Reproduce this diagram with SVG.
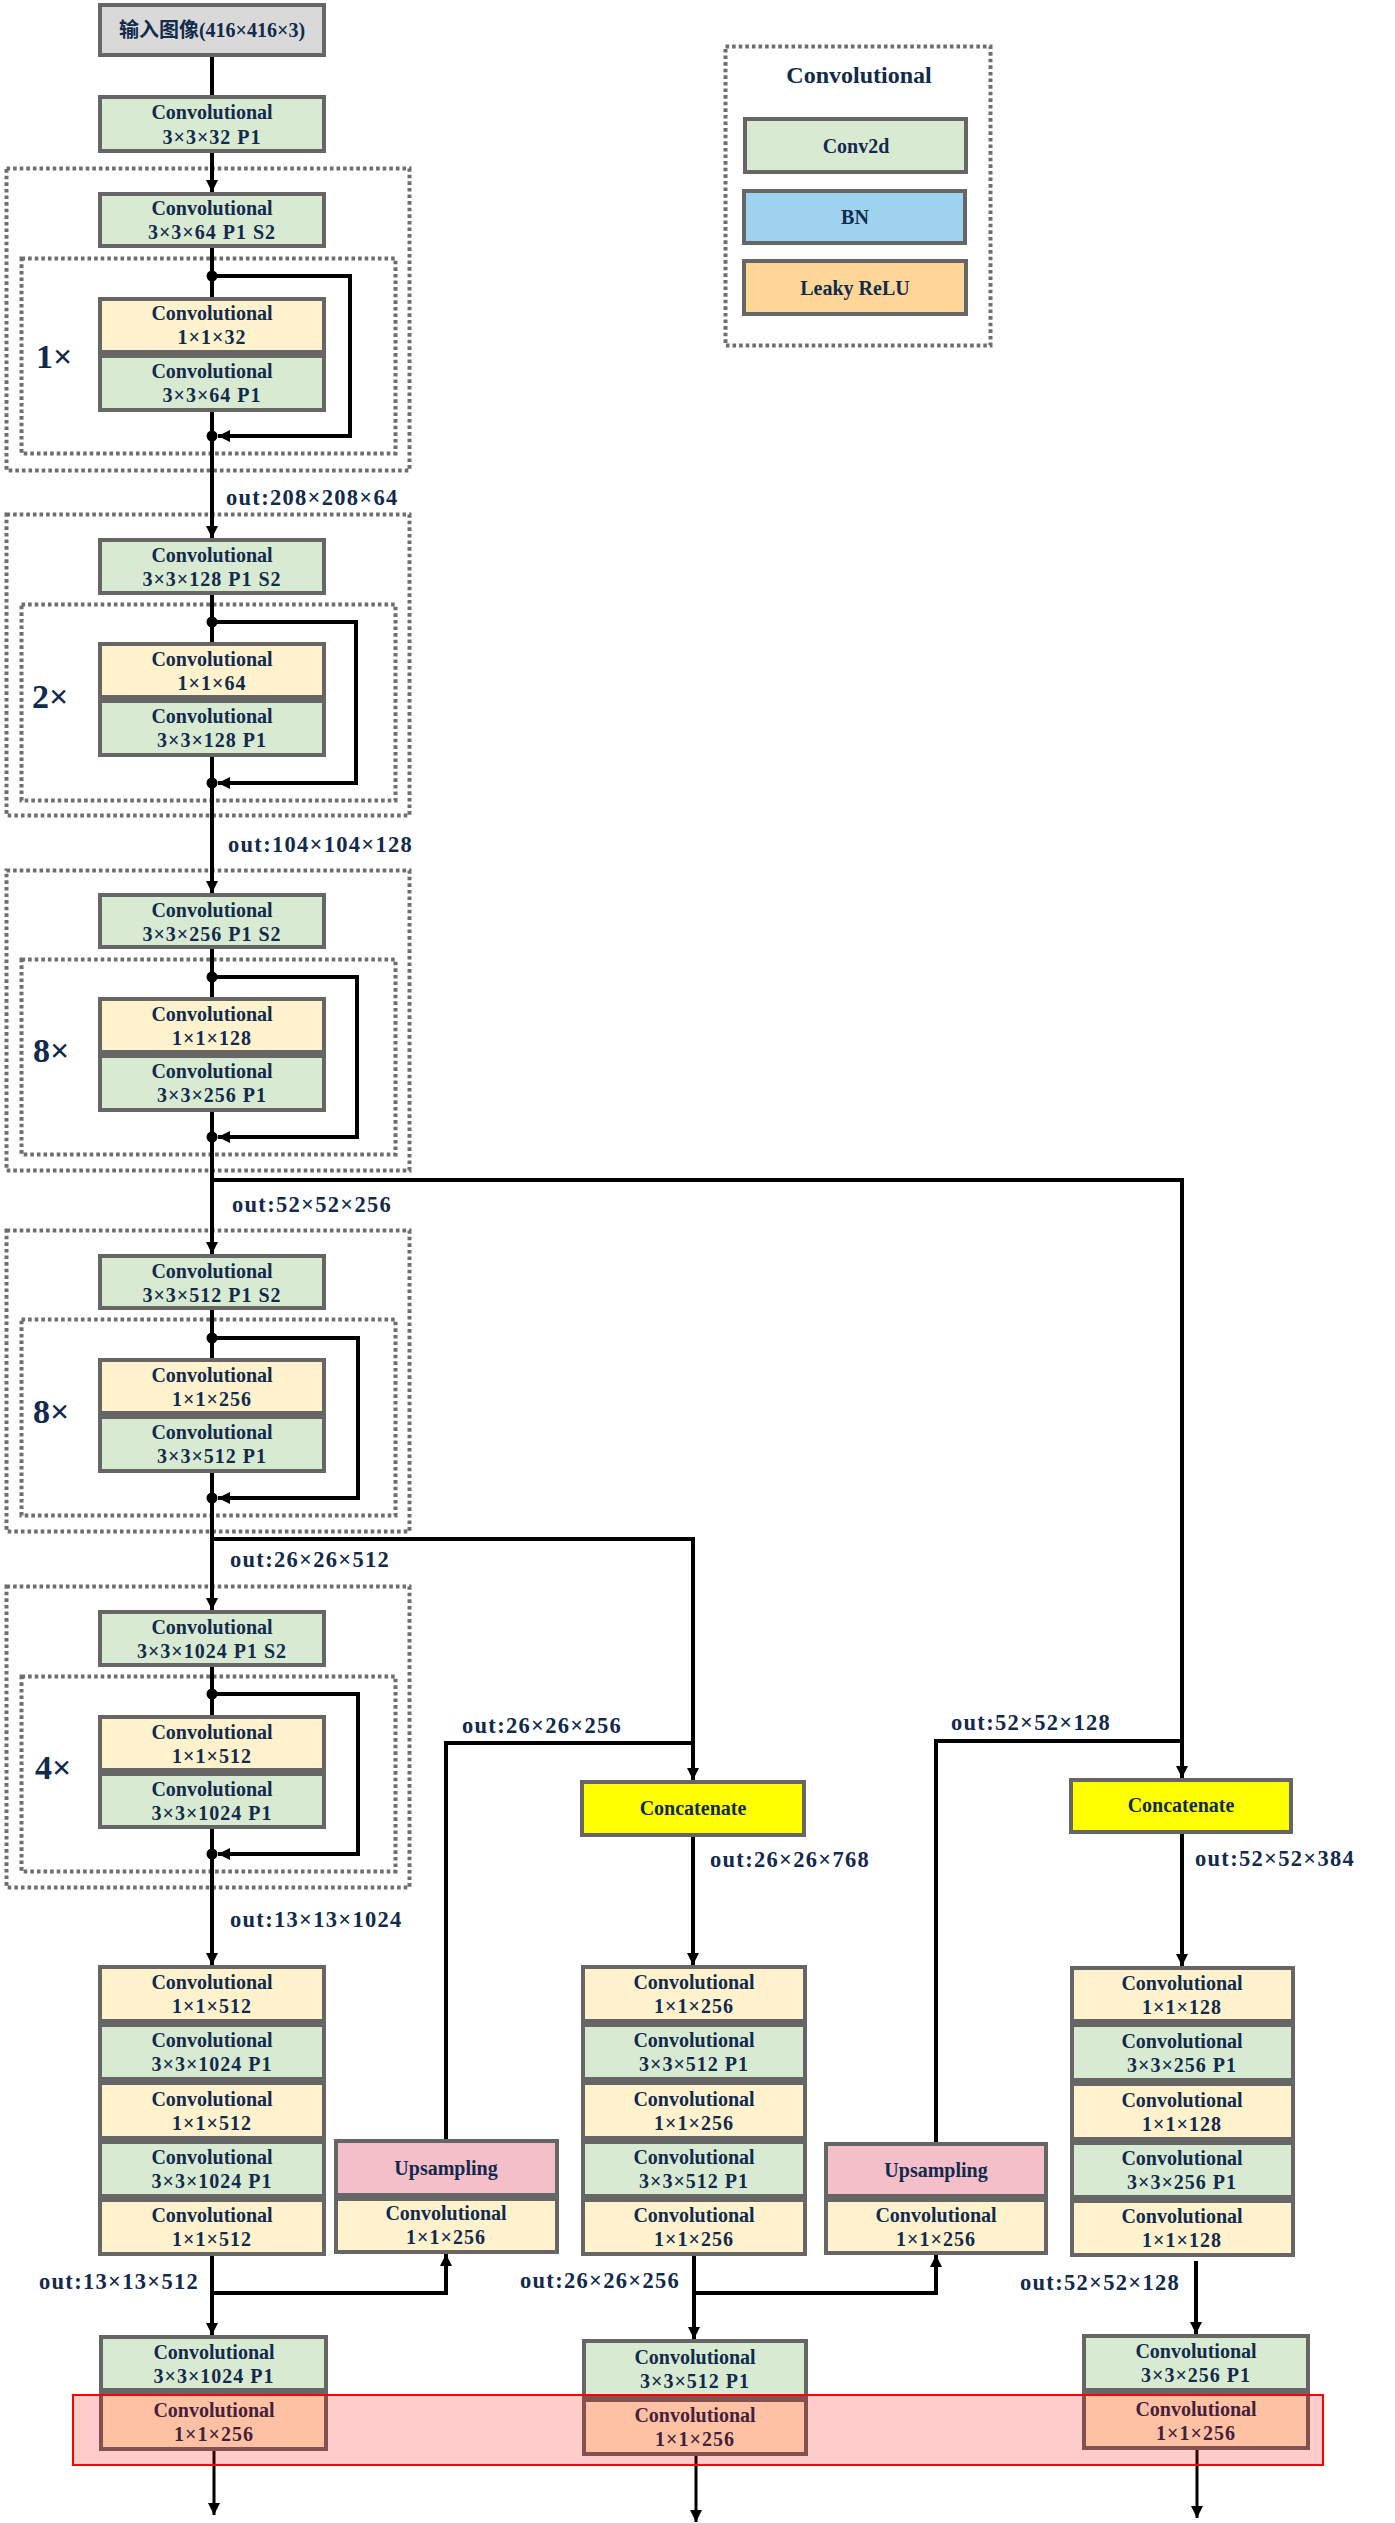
<svg xmlns="http://www.w3.org/2000/svg" width="1395" height="2523" viewBox="0 0 1395 2523">
<defs>
<style>
.t{font-family:"Liberation Serif","Times New Roman","Noto Sans CJK SC",serif;font-weight:bold;fill:#122a4c;font-size:20px;text-anchor:middle}
.cjk{font-family:"Noto Sans CJK SC",sans-serif;font-weight:bold;font-size:20px}
.t2{letter-spacing:1px}
.lbl{font-size:22.5px;letter-spacing:1.3px;text-anchor:start}
.rep{font-size:34px;text-anchor:start}
.ttl{font-size:24px}
.b{stroke:#666;stroke-width:4}
.gr{fill:#D9EAD3}
.ye{fill:#FFF2CC}
.in{fill:#D9D9D9}
.pk{fill:#F5BFCA}
.cc{fill:#FFFF00}
.bn{fill:#9DD3EE}
.lr{fill:#FED798}
.dt{fill:none;stroke:#6e6e6e;stroke-width:4;stroke-dasharray:3.6 3}
.ln{fill:none;stroke:#000;stroke-width:4}
.ln3{fill:none;stroke:#000;stroke-width:3}
.a{marker-end:url(#arr)}
</style>
<marker id="arr" markerUnits="userSpaceOnUse" markerWidth="12" markerHeight="12" refX="12" refY="6" orient="auto">
<path d="M0,0 L12,6 L0,12 z" fill="#000"/>
</marker>
</defs>
<rect width="1395" height="2523" fill="#fff"/>

<!-- dotted frames -->
<g id="frames">
<rect class="dt" x="6.5" y="168.5" width="403" height="302"/>
<rect class="dt" x="21.5" y="258.5" width="374" height="195"/>
<rect class="dt" x="6.5" y="514.5" width="403" height="301"/>
<rect class="dt" x="21.5" y="604.5" width="374" height="196"/>
<rect class="dt" x="6.5" y="870.5" width="403" height="300"/>
<rect class="dt" x="21.5" y="959.5" width="374" height="195"/>
<rect class="dt" x="6.5" y="1230.5" width="403" height="301"/>
<rect class="dt" x="21.5" y="1319.5" width="374" height="196"/>
<rect class="dt" x="6.5" y="1586.5" width="403" height="301"/>
<rect class="dt" x="21.5" y="1676.5" width="374" height="195"/>
<rect class="dt" x="725.5" y="46.5" width="265" height="299"/>
</g>

<!-- connectors -->
<g id="connectors">
<path class="ln" d="M212,57 V95"/>
<path class="ln a" d="M212,153 V192"/>
<path class="ln" d="M212,248 V297"/>
<path class="ln a" d="M212,412 V538"/>
<path class="ln a" d="M212,276 H350 V436 H218"/>
<path class="ln" d="M212,595 V642"/>
<path class="ln a" d="M212,757 V893"/>
<path class="ln a" d="M212,622 H356 V783 H218"/>
<path class="ln" d="M212,949 V997"/>
<path class="ln a" d="M212,1112 V1254"/>
<path class="ln a" d="M212,977 H357 V1137 H218"/>
<path class="ln a" d="M212,1180 H1182 V1778"/>
<path class="ln" d="M212,1310 V1358"/>
<path class="ln a" d="M212,1473 V1610"/>
<path class="ln a" d="M212,1338 H358 V1498 H218"/>
<path class="ln a" d="M212,1539 H693 V1780"/>
<path class="ln" d="M212,1667 V1715"/>
<path class="ln a" d="M212,1829 V1965"/>
<path class="ln a" d="M212,1694 H358 V1854 H218"/>
<path class="ln a" d="M212,2256 V2335"/>
<path class="ln a" d="M212,2293 H446 V2254"/>
<path class="ln" d="M446,2139 V1743 H693"/>
<path class="ln a" d="M693,1837 V1965"/>
<path class="ln a" d="M694,2256 V2339"/>
<path class="ln a" d="M694,2293 H936 V2255"/>
<path class="ln" d="M936,2142 V1741 H1182"/>
<path class="ln a" d="M1182,1834 V1966"/>
<path class="ln a" d="M1196,2261 V2334"/>
<path class="ln3 a" d="M214,2451 V2515"/>
<path class="ln3 a" d="M696,2456 V2522"/>
<path class="ln3 a" d="M1197,2450 V2518"/>
<g fill="#000">
<circle cx="212" cy="276" r="5.5"/><circle cx="212" cy="436" r="5.5"/>
<circle cx="212" cy="622" r="5.5"/><circle cx="212" cy="783" r="5.5"/>
<circle cx="212" cy="977" r="5.5"/><circle cx="212" cy="1137" r="5.5"/>
<circle cx="212" cy="1338" r="5.5"/><circle cx="212" cy="1498" r="5.5"/>
<circle cx="212" cy="1694" r="5.5"/><circle cx="212" cy="1854" r="5.5"/>
</g>
</g>

<!-- labels -->
<g id="labels" class="t">
<text class="t lbl" x="226" y="505">out:208×208×64</text>
<text class="t lbl" x="228" y="852">out:104×104×128</text>
<text class="t lbl" x="232" y="1212">out:52×52×256</text>
<text class="t lbl" x="230" y="1567">out:26×26×512</text>
<text class="t lbl" x="230" y="1927">out:13×13×1024</text>
<text class="t lbl" x="462" y="1733">out:26×26×256</text>
<text class="t lbl" x="951" y="1730">out:52×52×128</text>
<text class="t lbl" x="710" y="1867">out:26×26×768</text>
<text class="t lbl" x="1195" y="1866">out:52×52×384</text>
<text class="t lbl" x="39" y="2289">out:13×13×512</text>
<text class="t lbl" x="520" y="2288">out:26×26×256</text>
<text class="t lbl" x="1020" y="2290">out:52×52×128</text>
<text class="t rep" x="36" y="368">1×</text>
<text class="t rep" x="32" y="708">2×</text>
<text class="t rep" x="33" y="1062">8×</text>
<text class="t rep" x="33" y="1423">8×</text>
<text class="t rep" x="35" y="1779">4×</text>
</g>

<!-- nodes -->
<g id="input"><rect class="b in" x="100" y="5" width="224" height="50"/><text class="t" x="212" y="37"><tspan class="cjk">输入图像</tspan>(416×416×3)</text></g>
<g id="conv0"><rect class="b gr" x="100" y="97" width="224" height="54"/><text class="t" x="212" y="119">Convolutional</text><text class="t t2" x="212" y="144">3×3×32 P1</text></g>

<g id="b1-s2"><rect class="b gr" x="100" y="194" width="224" height="52"/><text class="t" x="212" y="215">Convolutional</text><text class="t t2" x="212" y="239">3×3×64 P1 S2</text></g>
<g id="b1-c1"><rect class="b ye" x="100" y="299" width="224" height="53"/><text class="t" x="212" y="320">Convolutional</text><text class="t t2" x="212" y="344">1×1×32</text></g>
<g id="b1-c3"><rect class="b gr" x="100" y="356" width="224" height="54"/><text class="t" x="212" y="378">Convolutional</text><text class="t t2" x="212" y="402">3×3×64 P1</text></g>

<g id="b2-s2"><rect class="b gr" x="100" y="540" width="224" height="53"/><text class="t" x="212" y="562">Convolutional</text><text class="t t2" x="212" y="586">3×3×128 P1 S2</text></g>
<g id="b2-c1"><rect class="b ye" x="100" y="644" width="224" height="53"/><text class="t" x="212" y="666">Convolutional</text><text class="t t2" x="212" y="690">1×1×64</text></g>
<g id="b2-c3"><rect class="b gr" x="100" y="701" width="224" height="54"/><text class="t" x="212" y="723">Convolutional</text><text class="t t2" x="212" y="747">3×3×128 P1</text></g>

<g id="b3-s2"><rect class="b gr" x="100" y="895" width="224" height="52"/><text class="t" x="212" y="917">Convolutional</text><text class="t t2" x="212" y="941">3×3×256 P1 S2</text></g>
<g id="b3-c1"><rect class="b ye" x="100" y="999" width="224" height="53"/><text class="t" x="212" y="1021">Convolutional</text><text class="t t2" x="212" y="1045">1×1×128</text></g>
<g id="b3-c3"><rect class="b gr" x="100" y="1056" width="224" height="54"/><text class="t" x="212" y="1078">Convolutional</text><text class="t t2" x="212" y="1102">3×3×256 P1</text></g>

<g id="b4-s2"><rect class="b gr" x="100" y="1256" width="224" height="52"/><text class="t" x="212" y="1278">Convolutional</text><text class="t t2" x="212" y="1302">3×3×512 P1 S2</text></g>
<g id="b4-c1"><rect class="b ye" x="100" y="1360" width="224" height="53"/><text class="t" x="212" y="1382">Convolutional</text><text class="t t2" x="212" y="1406">1×1×256</text></g>
<g id="b4-c3"><rect class="b gr" x="100" y="1417" width="224" height="54"/><text class="t" x="212" y="1439">Convolutional</text><text class="t t2" x="212" y="1463">3×3×512 P1</text></g>

<g id="b5-s2"><rect class="b gr" x="100" y="1612" width="224" height="53"/><text class="t" x="212" y="1634">Convolutional</text><text class="t t2" x="212" y="1658">3×3×1024 P1 S2</text></g>
<g id="b5-c1"><rect class="b ye" x="100" y="1717" width="224" height="53"/><text class="t" x="212" y="1739">Convolutional</text><text class="t t2" x="212" y="1763">1×1×512</text></g>
<g id="b5-c3"><rect class="b gr" x="100" y="1774" width="224" height="53"/><text class="t" x="212" y="1796">Convolutional</text><text class="t t2" x="212" y="1820">3×3×1024 P1</text></g>

<!-- left stack -->
<g id="l1"><rect class="b ye" x="100" y="1967" width="224" height="54"/><text class="t" x="212" y="1989">Convolutional</text><text class="t t2" x="212" y="2013">1×1×512</text></g>
<g id="l2"><rect class="b gr" x="100" y="2025" width="224" height="54"/><text class="t" x="212" y="2047">Convolutional</text><text class="t t2" x="212" y="2071">3×3×1024 P1</text></g>
<g id="l3"><rect class="b ye" x="100" y="2083" width="224" height="55"/><text class="t" x="212" y="2106">Convolutional</text><text class="t t2" x="212" y="2130">1×1×512</text></g>
<g id="l4"><rect class="b gr" x="100" y="2142" width="224" height="54"/><text class="t" x="212" y="2164">Convolutional</text><text class="t t2" x="212" y="2188">3×3×1024 P1</text></g>
<g id="l5"><rect class="b ye" x="100" y="2200" width="224" height="54"/><text class="t" x="212" y="2222">Convolutional</text><text class="t t2" x="212" y="2246">1×1×512</text></g>
<g id="l-up"><rect class="b pk" x="336" y="2141" width="221" height="54"/><text class="t" x="446" y="2175">Upsampling</text></g>
<g id="l-upc"><rect class="b ye" x="336" y="2199" width="221" height="53"/><text class="t" x="446" y="2220">Convolutional</text><text class="t t2" x="446" y="2244">1×1×256</text></g>
<g id="l-o1"><rect class="b gr" x="101" y="2337" width="225" height="53"/><text class="t" x="214" y="2359">Convolutional</text><text class="t t2" x="214" y="2383">3×3×1024 P1</text></g>
<g id="l-o2"><rect class="b ye" x="101" y="2394" width="225" height="55"/><text class="t" x="214" y="2417">Convolutional</text><text class="t t2" x="214" y="2441">1×1×256</text></g>

<!-- middle -->
<g id="m-cat"><rect class="b cc" x="582" y="1782" width="222" height="53"/><text class="t" x="693" y="1815">Concatenate</text></g>
<g id="m1"><rect class="b ye" x="583" y="1967" width="222" height="54"/><text class="t" x="694" y="1989">Convolutional</text><text class="t t2" x="694" y="2013">1×1×256</text></g>
<g id="m2"><rect class="b gr" x="583" y="2025" width="222" height="54"/><text class="t" x="694" y="2047">Convolutional</text><text class="t t2" x="694" y="2071">3×3×512 P1</text></g>
<g id="m3"><rect class="b ye" x="583" y="2083" width="222" height="55"/><text class="t" x="694" y="2106">Convolutional</text><text class="t t2" x="694" y="2130">1×1×256</text></g>
<g id="m4"><rect class="b gr" x="583" y="2142" width="222" height="54"/><text class="t" x="694" y="2164">Convolutional</text><text class="t t2" x="694" y="2188">3×3×512 P1</text></g>
<g id="m5"><rect class="b ye" x="583" y="2200" width="222" height="54"/><text class="t" x="694" y="2222">Convolutional</text><text class="t t2" x="694" y="2246">1×1×256</text></g>
<g id="m-up"><rect class="b pk" x="826" y="2144" width="220" height="52"/><text class="t" x="936" y="2177">Upsampling</text></g>
<g id="m-upc"><rect class="b ye" x="826" y="2200" width="220" height="53"/><text class="t" x="936" y="2222">Convolutional</text><text class="t t2" x="936" y="2246">1×1×256</text></g>
<g id="m-o1"><rect class="b gr" x="584" y="2341" width="222" height="55"/><text class="t" x="695" y="2364">Convolutional</text><text class="t t2" x="695" y="2388">3×3×512 P1</text></g>
<g id="m-o2"><rect class="b ye" x="584" y="2400" width="222" height="54"/><text class="t" x="695" y="2422">Convolutional</text><text class="t t2" x="695" y="2446">1×1×256</text></g>

<!-- right -->
<g id="r-cat"><rect class="b cc" x="1071" y="1780" width="220" height="52"/><text class="t" x="1181" y="1812">Concatenate</text></g>
<g id="r1"><rect class="b ye" x="1072" y="1968" width="221" height="53"/><text class="t" x="1182" y="1990">Convolutional</text><text class="t t2" x="1182" y="2014">1×1×128</text></g>
<g id="r2"><rect class="b gr" x="1072" y="2025" width="221" height="55"/><text class="t" x="1182" y="2048">Convolutional</text><text class="t t2" x="1182" y="2072">3×3×256 P1</text></g>
<g id="r3"><rect class="b ye" x="1072" y="2084" width="221" height="55"/><text class="t" x="1182" y="2107">Convolutional</text><text class="t t2" x="1182" y="2131">1×1×128</text></g>
<g id="r4"><rect class="b gr" x="1072" y="2143" width="221" height="54"/><text class="t" x="1182" y="2165">Convolutional</text><text class="t t2" x="1182" y="2189">3×3×256 P1</text></g>
<g id="r5"><rect class="b ye" x="1072" y="2201" width="221" height="54"/><text class="t" x="1182" y="2223">Convolutional</text><text class="t t2" x="1182" y="2247">1×1×128</text></g>
<g id="r-o1"><rect class="b gr" x="1084" y="2336" width="224" height="54"/><text class="t" x="1196" y="2358">Convolutional</text><text class="t t2" x="1196" y="2382">3×3×256 P1</text></g>
<g id="r-o2"><rect class="b ye" x="1084" y="2394" width="224" height="54"/><text class="t" x="1196" y="2416">Convolutional</text><text class="t t2" x="1196" y="2440">1×1×256</text></g>

<!-- legend -->
<g id="legend">
<text class="t ttl" x="859" y="83">Convolutional</text>
<rect class="b gr" x="745" y="119" width="221" height="53"/><text class="t" x="856" y="153">Conv2d</text>
<rect class="b bn" x="744" y="191" width="221" height="52"/><text class="t" x="855" y="224">BN</text>
<rect class="b lr" x="744" y="261" width="222" height="53"/><text class="t" x="855" y="295">Leaky ReLU</text>
</g>

<g id="highlight"><rect x="73" y="2395" width="1250" height="70" fill="#ff0000" fill-opacity="0.2" stroke="#ff0000" stroke-width="2"/></g>
</svg>
